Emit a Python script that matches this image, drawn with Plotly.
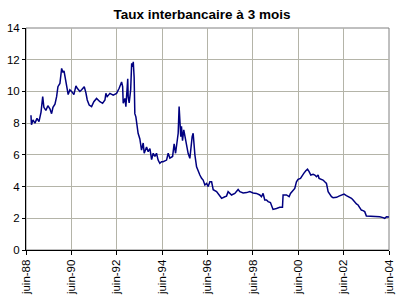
import plotly.graph_objects as go

dates = [
    "1988-08-20", "1988-08-28", "1988-09-21", "1988-10-23", "1988-11-25", "1988-12-27",
    "1989-01-29", "1989-02-25", "1989-03-16", "1989-04-17", "1989-05-19", "1989-06-21",
    "1989-07-18", "1989-08-09", "1989-09-10", "1989-10-07", "1989-10-28", "1989-11-29",
    "1989-12-27", "1990-01-17", "1990-02-03", "1990-02-19", "1990-03-16", "1990-04-11",
    "1990-05-08", "1990-06-05", "1990-07-12", "1990-08-14", "1990-09-04", "1990-10-17",
    "1990-11-14", "1990-12-26", "1991-01-22", "1991-02-12", "1991-03-15", "1991-04-23",
    "1991-05-29", "1991-07-12", "1991-09-04", "1991-10-17", "1991-11-24", "1991-12-09",
    "1991-12-30", "1992-02-12", "1992-04-05", "1992-05-29", "1992-07-10", "1992-08-18",
    "1992-09-04", "1992-09-13", "1992-10-10", "1992-10-26", "1992-11-17", "1992-11-25",
    "1992-12-02", "1992-12-18", "1993-01-11", "1993-01-27", "1993-02-12", "1993-02-22",
    "1993-03-08", "1993-03-19", "1993-04-05", "1993-04-26", "1993-05-11", "1993-06-08",
    "1993-07-05", "1993-08-01", "1993-08-17", "1993-09-24", "1993-10-20", "1993-11-17",
    "1993-12-14", "1994-01-09", "1994-02-06", "1994-03-03", "1994-03-29", "1994-04-25",
    "1994-05-23", "1994-06-18", "1994-08-12", "1994-09-07", "1994-10-04", "1994-11-17",
    "1994-12-12", "1995-01-04", "1995-01-20", "1995-02-15", "1995-03-02", "1995-03-13",
    "1995-03-29", "1995-04-09", "1995-04-26", "1995-05-16", "1995-06-02", "1995-06-29",
    "1995-07-25", "1995-08-22", "1995-09-07", "1995-09-28", "1995-10-14", "1995-10-30",
    "1995-11-11", "1995-12-08", "1996-01-03", "1996-01-30", "1996-02-27", "1996-03-23",
    "1996-04-20", "1996-05-17", "1996-06-12", "1996-07-09", "1996-08-06", "1996-09-01",
    "1996-10-25", "1996-12-17", "1997-01-14", "1997-03-07", "1997-04-03", "1997-04-29",
    "1997-05-26", "1997-06-23", "1997-08-15", "1997-09-12", "1997-10-07", "1997-11-04",
    "1997-12-27", "1998-02-21", "1998-04-13", "1998-06-05", "1998-07-29", "1998-09-21",
    "1998-10-18", "1998-11-13", "1998-12-10", "1999-01-07", "1999-02-02", "1999-03-11",
    "1999-04-06", "1999-04-22", "1999-06-16", "1999-08-08", "1999-09-21", "1999-10-01",
    "1999-11-25", "2000-01-06", "2000-01-28", "2000-03-10", "2000-04-06", "2000-05-03",
    "2000-05-29", "2000-07-07", "2000-08-09", "2000-08-29", "2000-10-01", "2000-10-28",
    "2000-11-23", "2000-12-20", "2001-01-27", "2001-02-23", "2001-03-21", "2001-04-16",
    "2001-05-02", "2001-06-10", "2001-07-05", "2001-08-02", "2001-08-29", "2001-09-25",
    "2001-10-11", "2001-11-18", "2001-12-14", "2002-02-08", "2002-03-19", "2002-04-27",
    "2002-06-08", "2002-07-16", "2002-08-28", "2002-10-06", "2002-11-01", "2002-11-28",
    "2002-12-25", "2003-01-20", "2003-02-17", "2003-03-14", "2003-04-10", "2003-05-07",
    "2003-06-03", "2003-07-26", "2003-11-12", "2004-01-04", "2004-02-26", "2004-03-24",
    "2004-04-21", "2004-06-01",
]

taux = [
    8.5, 7.9, 8.2, 8.0, 8.3, 8.1,
    8.7, 9.67, 9.0, 8.8, 9.1, 8.9,
    8.6, 9.0, 9.2, 9.67, 10.3, 10.5,
    11.45, 11.2, 11.3, 10.9, 10.3, 9.8,
    10.1, 10.0, 9.8, 10.35, 10.2, 10.0,
    10.1, 10.3, 9.9, 9.46, 9.14, 9.04,
    9.35, 9.56, 9.35, 9.25, 9.46, 9.88,
    9.67, 9.88, 9.77, 9.88, 10.2, 10.6,
    10.3, 9.25, 9.56, 9.04, 10.3, 10.8,
    9.67, 9.27, 10.1, 11.77, 11.56, 11.87,
    10.9, 8.6, 8.4, 7.8, 7.36, 7.0,
    6.3, 6.75, 6.1, 6.5, 6.2, 6.4,
    5.7, 6.1, 5.9, 6.1, 5.67, 5.47,
    5.57, 5.57, 5.67, 6.1, 5.8, 5.9,
    6.7, 6.1, 6.5, 7.36, 9.04, 8.0,
    7.15, 7.8, 6.9, 7.57, 7.15, 6.5,
    6.1, 5.78, 6.5, 7.15, 7.36, 6.5,
    6.0, 5.25, 4.94, 4.73, 4.52, 4.41,
    4.1, 4.2, 4.0, 4.3, 4.3, 3.8,
    3.68, 3.36, 3.26, 3.36, 3.4, 3.68,
    3.57, 3.47, 3.57, 3.68, 3.82, 3.68,
    3.6, 3.62, 3.68, 3.6, 3.57, 3.47,
    3.36, 3.57, 3.15, 3.15, 3.05, 2.99,
    2.62, 2.56, 2.62, 2.69, 2.69, 3.47,
    3.47, 3.36, 3.57, 3.78, 3.88, 4.3,
    4.45, 4.52, 4.67, 4.83, 5.0, 5.1,
    4.94, 4.73, 4.78, 4.73, 4.62, 4.73,
    4.52, 4.45, 4.41, 4.3, 4.2, 3.68,
    3.57, 3.36, 3.3, 3.32, 3.4, 3.47,
    3.53, 3.43, 3.36, 3.26, 3.15, 2.99,
    2.9, 2.84, 2.62, 2.52, 2.48, 2.42,
    2.14, 2.14, 2.14, 2.1, 2.04, 2.0,
    2.1, 2.08,
]

tick_dates = ["1988-06-01", "1990-06-01", "1992-06-01", "1994-06-01", "1996-06-01",
              "1998-06-01", "2000-06-01", "2002-06-01", "2004-06-01"]
tick_labels = ["juin-88", "juin-90", "juin-92", "juin-94", "juin-96",
               "juin-98", "juin-00", "juin-02", "juin-04"]
y_ticks = [0, 2, 4, 6, 8, 10, 12, 14]

fig = go.Figure()
fig.add_trace(go.Scatter(x=dates, y=taux, mode="lines",
                         line=dict(color="#000080", width=1.5), hoverinfo="skip"))

font = "Liberation Sans, Arial, sans-serif"
fig.update_layout(
    width=400, height=302,
    margin=dict(l=26, r=11, t=28, b=52, autoexpand=False),
    paper_bgcolor="white", plot_bgcolor="white",
    showlegend=False,
    title=dict(text="<b>Taux interbancaire à 3 mois</b>", x=0.505, xanchor="center",
               y=0.952, yanchor="middle", font=dict(family=font, size=13.5, color="black")),
    font=dict(family=font, size=11, color="black"),
)
fig.update_xaxes(
    type="date", range=[tick_dates[0], tick_dates[-1]],
    tickvals=tick_dates, ticktext=tick_labels, tickangle=-90,
    tickfont=dict(family=font, size=11.5, color="black"),
    showgrid=True, gridcolor="#b4b4a8", gridwidth=1,
    showline=True, linecolor="black", linewidth=1, automargin=False,
    ticks="outside", ticklen=4, tickcolor="black", zeroline=False,
)
fig.update_yaxes(
    range=[0, 14], tickvals=y_ticks,
    tickfont=dict(family=font, size=11.5, color="black"),
    showgrid=True, gridcolor="#b4b4a8", gridwidth=1,
    showline=True, linecolor="black", linewidth=1, automargin=False,
    ticks="outside", ticklen=3, tickcolor="black", zeroline=False,
)
fig.add_shape(type="rect", xref="paper", yref="paper", x0=0, y0=0, x1=1, y1=1,
              line=dict(color="#808080", width=1), layer="below")
fig.write_html("out.html")
